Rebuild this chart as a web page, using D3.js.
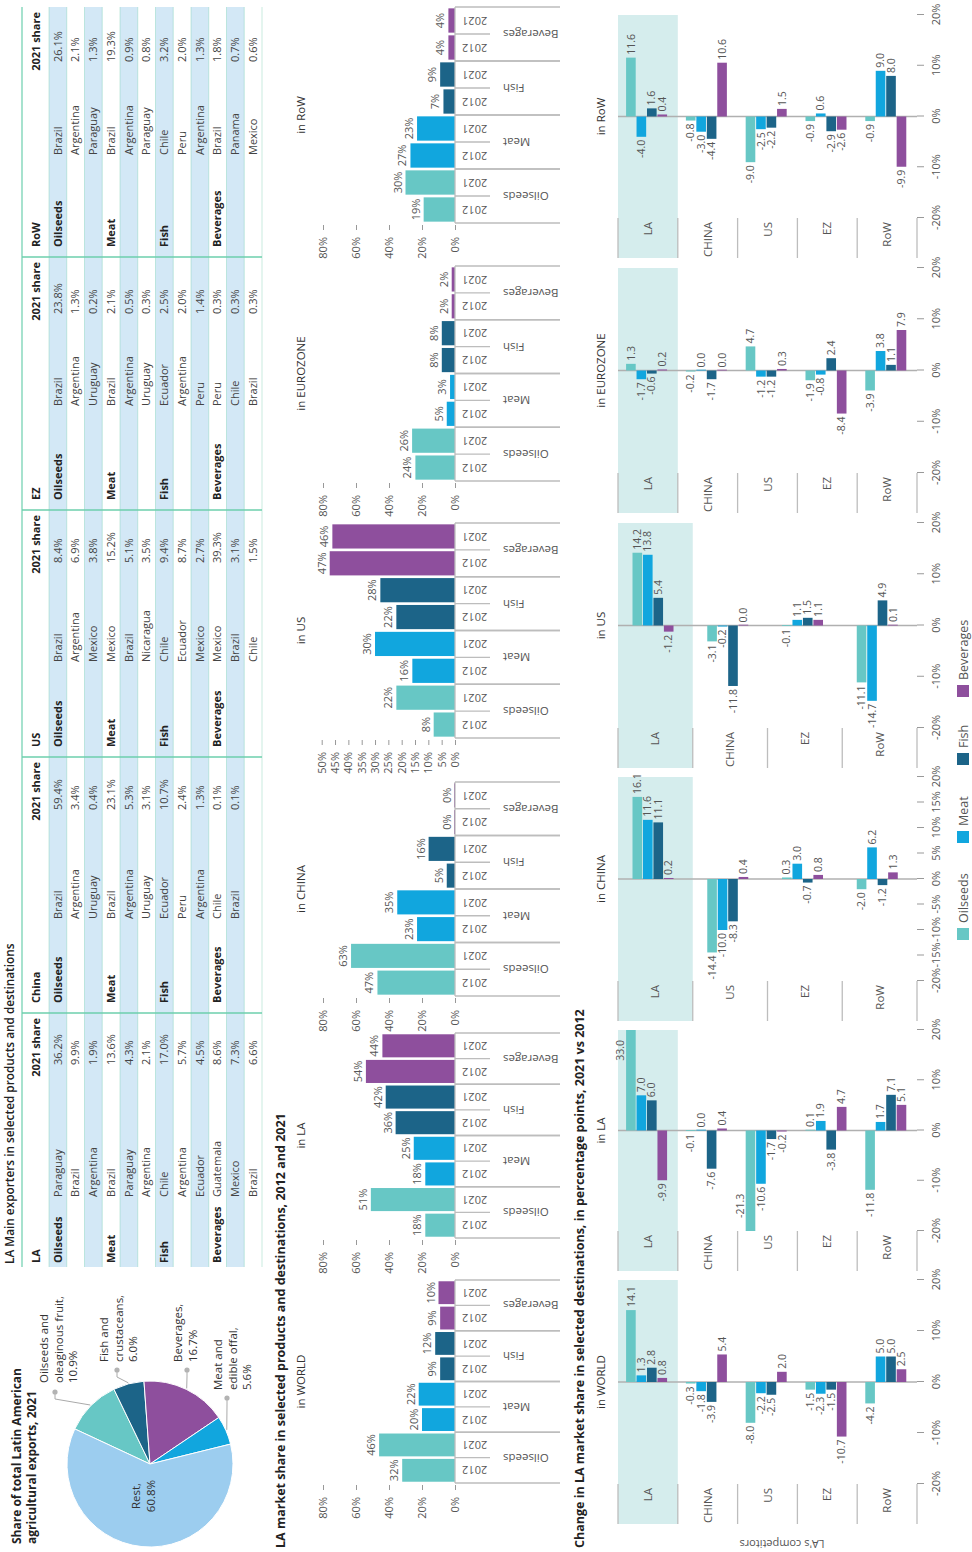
<!DOCTYPE html>
<html>
<head>
<meta charset="utf-8">
<script src="https://cdn.jsdelivr.net/npm/d3@7"></script>
<style>
  body { margin: 0; background: #fff; }
  svg text { font-family: 'Open Sans', 'Noto Sans', sans-serif; }
</style>
</head>
<body>
<svg id="chart" width="972" height="1552"></svg>
<script>
// ---------- data ----------
const products = ["Oilseeds", "Meat", "Fish", "Beverages"];
const years = ["2012", "2021"];

// pie: share of total LA agricultural exports, 2021
const pieNames = ["Oilseeds and oleaginous fruit", "Fish and crustaceans", "Beverages", "Meat and edible offal", "Rest"];
const pieValues = [10.9, 6.0, 16.7, 5.6, 60.8];

// table: main exporters, 2021 share
const tableHeads = ["LA", "China", "US", "EZ", "RoW"];
const laExporters = ["Paraguay", "Brazil", "Argentina", "Brazil", "Paraguay", "Argentina", "Chile", "Argentina", "Ecuador", "Guatemala", "Mexico", "Brazil"];
const laShares = [36.2, 9.9, 1.9, 13.6, 4.3, 2.1, 17.0, 5.7, 4.5, 8.6, 7.3, 6.6];
const chinaExporters = ["Brazil", "Argentina", "Uruguay", "Brazil", "Argentina", "Uruguay", "Ecuador", "Peru", "Argentina", "Chile", "Brazil", ""];
const chinaShares = [59.4, 3.4, 0.4, 23.1, 5.3, 3.1, 10.7, 2.4, 1.3, 0.1, 0.1, null];
const usExporters = ["Brazil", "Argentina", "Mexico", "Mexico", "Brazil", "Nicaragua", "Chile", "Ecuador", "Mexico", "Mexico", "Brazil", "Chile"];
const usShares = [8.4, 6.9, 3.8, 15.2, 5.1, 3.5, 9.4, 8.7, 2.7, 39.3, 3.1, 1.5];
const ezExporters = ["Brazil", "Argentina", "Uruguay", "Brazil", "Argentina", "Uruguay", "Ecuador", "Argentina", "Peru", "Peru", "Chile", "Brazil"];
const ezShares = [23.8, 1.3, 0.2, 2.1, 0.5, 0.3, 2.5, 2.0, 1.4, 0.3, 0.3, 0.3];
const rowExporters = ["Brazil", "Argentina", "Paraguay", "Brazil", "Argentina", "Paraguay", "Chile", "Peru", "Argentina", "Brazil", "Panama", "Mexico"];
const rowShares = [26.1, 2.1, 1.3, 19.3, 0.9, 0.8, 3.2, 2.0, 1.3, 1.8, 0.7, 0.6];

// LA market share by destination, 2012 and 2021 (Oilseeds, Meat, Fish, Beverages)
const shareRegions = ["WORLD", "LA", "CHINA", "US", "EUROZONE", "RoW"];
const share2012 = [[32, 20, 9, 9], [18, 18, 36, 54], [47, 23, 5, 0], [8, 16, 22, 47], [24, 5, 8, 2], [19, 27, 7, 4]];
const share2021 = [[46, 22, 12, 10], [51, 25, 42, 44], [63, 35, 16, 0], [22, 30, 28, 46], [26, 3, 8, 2], [30, 23, 9, 4]];
const shareTicks = [0, 20, 40, 60, 80];
const shareTicksUS = [0, 5, 10, 15, 20, 25, 30, 35, 40, 45, 50];

// change in market share, percentage points 2021 vs 2012 (Oilseeds, Meat, Fish, Beverages)
const changeCompetitors = [
  ["LA", "CHINA", "US", "EZ", "RoW"],
  ["LA", "CHINA", "US", "EZ", "RoW"],
  ["LA", "US", "EZ", "RoW"],
  ["LA", "CHINA", "EZ", "RoW"],
  ["LA", "CHINA", "US", "EZ", "RoW"],
  ["LA", "CHINA", "US", "EZ", "RoW"]
];
const changeWorld = [[14.1, 1.3, 2.8, 0.8], [-0.3, -1.8, -3.9, 5.4], [-8.0, -2.2, -2.5, 2.0], [-1.5, -2.3, -1.5, -10.7], [-4.2, 5.0, 5.0, 2.5]];
const changeLA = [[33.0, 7.0, 6.0, -9.9], [-0.1, 0.0, -7.6, 0.4], [-21.3, -10.6, -1.7, -0.2], [0.1, 1.9, -3.8, 4.7], [-11.8, 1.7, 7.1, 5.1]];
const changeChina = [[16.1, 11.6, 11.1, 0.2], [-14.4, -10.0, -8.3, 0.4], [0.3, 3.0, -0.7, 0.8], [-2.0, 6.2, -1.2, 1.3]];
const changeUS = [[14.2, 13.8, 5.4, -1.2], [-3.1, -0.2, -11.8, 0.0], [-0.1, 1.1, 1.5, 1.1], [-11.1, -14.7, 4.9, 0.1]];
const changeEZ = [[1.3, -1.7, -0.6, 0.2], [-0.2, 0.0, -1.7, 0.0], [4.7, -1.2, -1.2, 0.3], [-1.9, -0.8, 2.4, -8.4], [-3.9, 3.8, 1.1, 7.9]];
const changeRoW = [[11.6, -4.0, 1.6, 0.4], [-0.8, -3.0, -4.4, 10.6], [-9.0, -2.5, -2.2, 1.5], [-0.9, 0.6, -2.9, -2.6], [-0.9, 9.0, 8.0, -9.9]];
const changeTicks = [-20, -10, 0, 10, 20];
const changeTicksChina = [-20, -15, -10, -5, 0, 5, 10, 15, 20];

// ---------- styles ----------
const productColors = ["#67c7c5", "#11a6de", "#1c6488", "#8e4f9d"];
const restColor = "#9ccdef";
const rowBlue = "#d3e8f6";
const gridGreen = "#6ccfad";
const laBand = "#d5eded";
const lineGray = "#bdbdbd";
const textGray = "#555";
const textDark = "#222";

const fmtLoc = d3.formatLocale({ decimal: ".", thousands: ",", grouping: [3], currency: ["", ""], minus: "-" });
const fmt1 = fmtLoc.format(".1f");

// whole graphic is laid out landscape (1552 x 972) and turned a quarter to fit the page
const svg = d3.select("#chart");
const root = svg.append("g").attr("transform", "translate(0,1552) rotate(-90)");

function txt(g, x, y, s, opt = {}) {
  return g.append("text")
    .attr("x", x).attr("y", y)
    .attr("font-size", opt.size || 11)
    .attr("font-weight", opt.weight || 400)
    .attr("fill", opt.fill || textDark)
    .attr("text-anchor", opt.anchor || "start")
    .text(s);
}

// ---------- titles ----------
txt(root, 8, 21, "Share of total Latin American", { size: 12, weight: 700 });
txt(root, 8, 36, "agricultural exports, 2021", { size: 12, weight: 700 });
txt(root, 288, 14, "LA Main exporters in selected products and destinations", { size: 11.8, weight: 600 });
txt(root, 4, 285, "LA market share in selected products and destinations, 2012 and 2021", { size: 12.5, weight: 700 });
txt(root, 4, 584, "Change in LA market share in selected destinations, in percentage points, 2021 vs 2012", { size: 12.5, weight: 700 });

// ---------- pie ----------
(function drawPie() {
  const cx = 88, cy = 150, r = 83;
  const start = 25 * Math.PI / 180;
  const pie = d3.pie().sort(null).startAngle(start).endAngle(start + 2 * Math.PI);
  const arc = d3.arc().innerRadius(0).outerRadius(r);
  const colors = [productColors[0], productColors[2], productColors[3], productColors[1], restColor];
  const arcs = pie(pieValues);
  const g = root.append("g").attr("transform", `translate(${cx},${cy})`);
  g.selectAll("path").data(arcs).join("path")
    .attr("d", arc).attr("fill", (d, i) => colors[i])
    .attr("stroke", "#fff").attr("stroke-width", 1);

  const lines = [["Oilseeds and", "oleaginous fruit,"], ["Fish and", "crustaceans,"], ["Beverages,"], ["Meat and", "edible offal,"], ["Rest,"]];
  const labelPos = [
    { x: 169, y: 48, dot: [160, 55] },
    { x: 190, y: 108, dot: [182, 117] },
    { x: 190, y: 182, dot: [182, 187] },
    { x: 162, y: 222, dot: [154, 227] },
    { x: 56, y: 140 }
  ];
  arcs.forEach((a, i) => {
    const p = labelPos[i];
    const rows = lines[i].concat([fmt1(pieValues[i]) + "%"]);
    rows.forEach((s, k) => {
      txt(root, p.x, p.y + k * 14.5, s, { size: 11.5, fill: "#333", anchor: p.dot ? "start" : "middle" });
    });
    if (p.dot) {
      const m = (a.startAngle + a.endAngle) / 2;
      const ex = cx + (r + 1) * Math.sin(m), ey = cy - (r + 1) * Math.cos(m);
      root.append("polyline")
        .attr("points", `${ex},${ey} ${p.dot[0] - 7},${p.dot[1]} ${p.dot[0]},${p.dot[1]}`)
        .attr("fill", "none").attr("stroke", "#aaa").attr("stroke-width", 1);
      root.append("circle").attr("cx", p.dot[0]).attr("cy", p.dot[1]).attr("r", 2.6).attr("fill", "#b3b3b3");
    }
  });
})();

// ---------- table ----------
(function drawTable() {
  const exporters = [laExporters, chinaExporters, usExporters, ezExporters, rowExporters];
  const shares = [laShares, chinaShares, usShares, ezShares, rowShares];
  const edges = [285, 539, 795, 1042, 1295, 1545];
  const colProd = [289, 549, 805, 1052, 1305];
  const colCountry = [355, 633, 890, 1146, 1397];
  const colShare = [487, 742, 989, 1238, 1490];
  const top = 22, rowTop = 49, rowH = 17.75;
  const g = root.append("g");
  tableHeads.forEach((h, b) => {
    const x0 = edges[b], x1 = edges[b + 1];
    for (let r = 0; r < 12; r += 2) {
      g.append("rect").attr("x", x0).attr("y", rowTop + r * rowH).attr("width", x1 - x0).attr("height", rowH).attr("fill", rowBlue);
    }
  });
  for (let r = 0; r <= 12; r++) {
    g.append("line").attr("x1", edges[0]).attr("x2", edges[5])
      .attr("y1", rowTop + r * rowH).attr("y2", rowTop + r * rowH)
      .attr("stroke", gridGreen).attr("stroke-width", 0.6).attr("opacity", 0.6);
  }
  g.append("line").attr("x1", edges[0]).attr("x2", edges[5]).attr("y1", top).attr("y2", top)
    .attr("stroke", gridGreen).attr("stroke-width", 1.2);
  edges.slice(1, 5).forEach(x => {
    g.append("line").attr("x1", x).attr("x2", x).attr("y1", top).attr("y2", rowTop + 12 * rowH)
      .attr("stroke", gridGreen).attr("stroke-width", 1.3);
  });
  tableHeads.forEach((h, b) => {
    txt(g, colProd[b], 40, h, { size: 11, weight: 700 });
    txt(g, edges[b + 1] - 5, 40, "2021 share", { size: 11, weight: 700, anchor: "end" });
    for (let r = 0; r < 12; r++) {
      const base = rowTop + r * rowH + 12.6;
      if (r % 3 === 0) txt(g, colProd[b], base, products[r / 3], { size: 11, weight: 700 });
      if (exporters[b][r]) txt(g, colCountry[b], base, exporters[b][r], { size: 11, fill: "#444" });
      if (shares[b][r] != null) txt(g, colShare[b], base, fmt1(shares[b][r]) + "%", { size: 11, fill: "#444" });
    }
  });
})();

// ---------- market share panels ----------
(function drawShare() {
  const panelX = [[69, 272], [314, 519], [556, 770], [814, 1029], [1071, 1286], [1329, 1545]];
  const base = 455;
  shareRegions.forEach((reg, i) => {
    const [x0, x1] = panelX[i];
    const g = root.append("g");
    const keys = [];
    products.forEach(p => years.forEach(yr => keys.push(p + "|" + yr)));
    const x = d3.scaleBand().domain(keys).range([x0, x1]).paddingInner(0.1).paddingOuter(0.05);
    const isUS = reg === "US";
    const y = d3.scaleLinear().domain([0, isUS ? 50 : 80]).range([base, isUS ? 321.7 : 323]);

    const ax = g.append("g").attr("transform", `translate(${x0 - 2},0)`)
      .call(d3.axisLeft(y).tickValues(isUS ? shareTicksUS : shareTicks).tickFormat(d => d + "%").tickSize(5).tickPadding(7));
    ax.select(".domain").remove();
    ax.selectAll(".tick line").attr("stroke", "#999");
    ax.selectAll(".tick text").attr("fill", textGray).attr("font-size", 11).attr("font-family", null);

    const step = x.step(), bw = x.bandwidth();
    products.forEach((p, j) => {
      years.forEach((yr, k) => {
        const v = (k === 0 ? share2012 : share2021)[i][j];
        const bx = x(p + "|" + yr);
        const h = Math.max(1, base - y(v));
        g.append("rect").attr("x", bx).attr("y", base - h).attr("width", bw).attr("height", h).attr("fill", productColors[j]);
        txt(g, bx + bw / 2, y(v) - 4, v + "%", { size: 11, fill: textGray, anchor: "middle" });
        g.append("text").attr("transform", `translate(${bx + bw / 2},462) rotate(-90)`)
          .attr("dy", "0.35em").attr("text-anchor", "end").attr("font-size", 11).attr("fill", textGray).text(yr);
      });
      const xa = x(p + "|2012"), xb = x(p + "|2021");
      const mid = (xa + bw + xb) / 2;
      g.append("line").attr("x1", mid).attr("x2", mid).attr("y1", base).attr("y2", 490).attr("stroke", lineGray).attr("stroke-width", 1.3);
      const c0 = j === 0 ? x0 : (xa - (step - bw) / 2);
      const c1 = j === 3 ? x1 : (xb + bw + (step - bw) / 2);
      g.append("text").attr("transform", `translate(${(c0 + c1) / 2},503) rotate(-90)`)
        .attr("dy", "0.35em").attr("text-anchor", "end").attr("font-size", 11.5).attr("fill", textGray).text(p);
      [c0, c1].forEach(cx => {
        g.append("line").attr("x1", cx).attr("x2", cx).attr("y1", base).attr("y2", 560).attr("stroke", lineGray).attr("stroke-width", 1.3);
      });
    });
    g.append("line").attr("x1", x0).attr("x2", x1).attr("y1", base).attr("y2", base).attr("stroke", lineGray).attr("stroke-width", 1.3);
    txt(g, (x0 + x1) / 2, 305, "in " + reg, { size: 11.5, weight: 500, fill: "#333", anchor: "middle" });
  });
})();

// ---------- change panels ----------
(function drawChange() {
  const values = [changeWorld, changeLA, changeChina, changeUS, changeEZ, changeRoW];
  const panelX = [[68, 272], [321, 522], [571, 775], [824, 1029], [1079, 1284], [1334, 1537]];
  const yTop = 618, yBot = 917, colW = 40;
  shareRegions.forEach((reg, i) => {
    const [x0, x1] = panelX[i];
    const comps = changeCompetitors[i];
    const g = root.append("g");
    const x = d3.scaleLinear().domain([-20, 20]).range([x0, x1]);
    const cat = d3.scaleBand().domain(comps).range([yTop, yBot]);
    const bw = cat.bandwidth();
    const inner = d3.scaleBand().domain(products).range([0, 41]).paddingInner(0.08);
    const off = (bw - 41) * 0.43;

    g.append("rect").attr("x", x0 - colW).attr("y", cat("LA")).attr("width", x1 - x0 + colW).attr("height", bw).attr("fill", laBand);

    comps.concat([null]).forEach(c => {
      const yy = c ? cat(c) : yBot;
      g.append("line").attr("x1", x0 - colW).attr("x2", x0).attr("y1", yy).attr("y2", yy).attr("stroke", lineGray).attr("stroke-width", 1.3);
    });
    comps.forEach(c => {
      g.append("text").attr("x", x0 - 4).attr("y", cat(c) + bw / 2).attr("dy", "0.35em")
        .attr("text-anchor", "end").attr("font-size", 11.5).attr("fill", textGray).text(c);
    });

    g.append("line").attr("x1", x(0)).attr("x2", x(0)).attr("y1", yTop).attr("y2", yBot).attr("stroke", "#b0b0b0").attr("stroke-width", 1.3);

    const ax = g.append("g").attr("transform", `translate(0,${yBot})`)
      .call(d3.axisBottom(x).tickValues(reg === "CHINA" ? changeTicksChina : changeTicks)
        .tickFormat(d => fmtLoc.format("d")(d) + "%").tickSize(7).tickPadding(8));
    ax.select(".domain").remove();
    ax.selectAll(".tick line").attr("stroke", "#999");
    ax.selectAll(".tick text").attr("fill", textGray).attr("font-size", 11).attr("font-family", null);

    comps.forEach((c, ci) => {
      products.forEach((p, j) => {
        const v = values[i][ci][j];
        const vc = Math.max(-20, Math.min(20, v));
        const by = cat(c) + off + inner(p);
        const bh = inner.bandwidth();
        g.append("rect").attr("x", x(Math.min(0, vc))).attr("y", by)
          .attr("width", Math.max(0.8, Math.abs(x(vc) - x(0)))).attr("height", bh).attr("fill", productColors[j]);
        const lab = g.append("text").attr("font-size", 10.5).attr("fill", textGray).text(fmt1(v));
        if (Math.abs(v) > 20) {
          lab.attr("x", v > 0 ? x(vc) - 10 : x(vc) + 13).attr("y", by - 2)
            .attr("text-anchor", v > 0 ? "end" : "start");
        } else {
          lab.attr("x", v >= 0 ? x(v) + 3 : x(v) - 3).attr("y", by + bh / 2).attr("dy", "0.35em")
            .attr("text-anchor", v >= 0 ? "start" : "end");
        }
      });
    });
    txt(g, x(0), 605, "in " + reg, { size: 11.5, weight: 500, fill: "#333", anchor: "middle" });
  });

  // vertical note on the competitor axis
  root.append("text").attr("transform", "translate(12,782) rotate(-90)").attr("text-anchor", "middle")
    .attr("font-size", 11).attr("fill", textGray).text("LA's competitors");

  // legend
  const legX = [612, 709, 787, 855];
  products.forEach((p, j) => {
    root.append("rect").attr("x", legX[j]).attr("y", 957).attr("width", 12).attr("height", 12).attr("fill", productColors[j]);
    txt(root, legX[j] + 17, 967.5, p, { size: 12.5, fill: textGray });
  });
})();
</script>
</body>
</html>
